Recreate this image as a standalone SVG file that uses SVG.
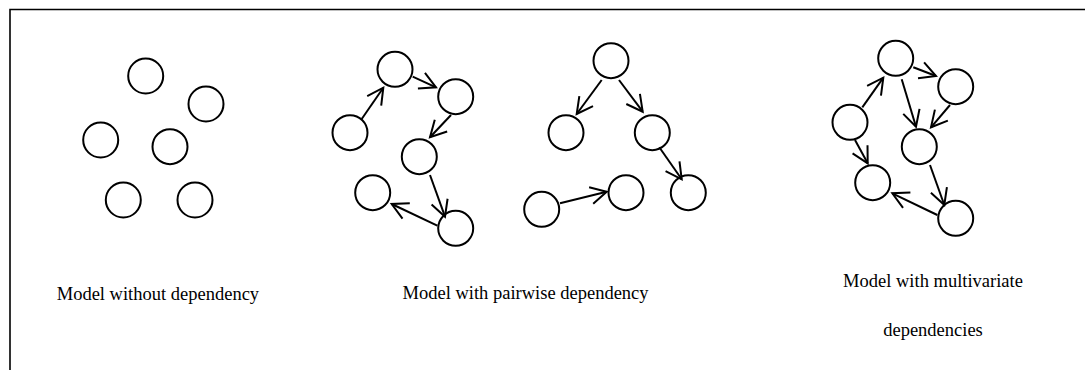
<svg xmlns="http://www.w3.org/2000/svg" width="1085" height="370" viewBox="0 0 1085 370">
<style>
.n{fill:#fff;stroke:#000;stroke-width:2}
.e{fill:none;stroke:#000;stroke-width:2;marker-end:url(#ah)}
.t{font-family:"Liberation Serif","Times New Roman",serif;font-size:18.5px;fill:#000}
</style>
<defs>
<marker id="ah" markerUnits="userSpaceOnUse" markerWidth="24" markerHeight="24" viewBox="-18 -12 24 24" refX="0" refY="0" orient="auto">
<path d="M-16,-8.5 L0,0 L-16,8.5" fill="none" stroke="#000" stroke-width="2"/>
</marker>
</defs>
<rect width="1085" height="370" fill="#fff"/>
<path d="M10,370 V9.5 H1085" fill="none" stroke="#000" stroke-width="1.6"/>
<g id="group-none">
<circle id="n1" class="n" cx="145.7" cy="76" r="17.5"/>
<circle id="n2" class="n" cx="206" cy="104" r="17.5"/>
<circle id="n3" class="n" cx="100.7" cy="140" r="17.5"/>
<circle id="n4" class="n" cx="170" cy="146.7" r="17.5"/>
<circle id="n5" class="n" cx="123.3" cy="200" r="17.5"/>
<circle id="n6" class="n" cx="195" cy="200" r="17.5"/>
</g>
<g id="group-pairwise">
<circle id="pA" class="n" cx="395" cy="69.3" r="17.5"/>
<circle id="pB" class="n" cx="455.7" cy="96.7" r="17.5"/>
<circle id="pC" class="n" cx="350" cy="132.7" r="17.5"/>
<circle id="pD" class="n" cx="419.3" cy="156.7" r="17.5"/>
<circle id="pE" class="n" cx="372.7" cy="192.7" r="17.5"/>
<circle id="pF" class="n" cx="455.7" cy="228.3" r="17.5"/>
<circle id="pG" class="n" cx="611" cy="60.7" r="17.5"/>
<circle id="pH" class="n" cx="566" cy="132.7" r="17.5"/>
<circle id="pI" class="n" cx="652.3" cy="132.7" r="17.5"/>
<circle id="pJ" class="n" cx="541.7" cy="209.3" r="17.5"/>
<circle id="pK" class="n" cx="626" cy="192.7" r="17.5"/>
<circle id="pL" class="n" cx="688.3" cy="192.7" r="17.5"/>
</g>
<g id="group-multivariate">
<circle id="mM" class="n" cx="895.7" cy="58.3" r="17.5"/>
<circle id="mN" class="n" cx="955.7" cy="86.7" r="17.5"/>
<circle id="mO" class="n" cx="850" cy="122.3" r="17.5"/>
<circle id="mP" class="n" cx="919.3" cy="146.7" r="17.5"/>
<circle id="mQ" class="n" cx="872.7" cy="182.7" r="17.5"/>
<circle id="mR" class="n" cx="955.7" cy="218.3" r="17.5"/>
</g>
<g id="connectors">
<line class="e" x1="361.7" y1="119" x2="383.3" y2="87.7"/>
<line class="e" x1="412.7" y1="76.7" x2="436" y2="87.3"/>
<line class="e" x1="451" y1="115" x2="430" y2="137.3"/>
<line class="e" x1="430" y1="175" x2="445" y2="216.7"/>
<line class="e" x1="437.3" y1="225.7" x2="391.7" y2="204"/>
<line class="e" x1="601.7" y1="80" x2="576.7" y2="114"/>
<line class="e" x1="619" y1="80" x2="642.7" y2="111.7"/>
<line class="e" x1="659.3" y1="147.3" x2="681.7" y2="179.3"/>
<line class="e" x1="560" y1="203.3" x2="606.7" y2="191.7"/>
<line class="e" x1="862.3" y1="107.3" x2="883.3" y2="77.7"/>
<line class="e" x1="913.3" y1="67.3" x2="936" y2="76"/>
<line class="e" x1="901.7" y1="79.3" x2="916" y2="126.7"/>
<line class="e" x1="950" y1="105" x2="931" y2="127.3"/>
<line class="e" x1="855" y1="140" x2="867.7" y2="163.3"/>
<line class="e" x1="930" y1="165" x2="944.3" y2="205"/>
<line class="e" x1="937.3" y1="215" x2="892.3" y2="193.3"/>
</g>
<g id="labels">
<text class="t" x="56.7" y="300">Model without dependency</text>
<text class="t" x="402.5" y="299">Model with pairwise dependency</text>
<text class="t" x="933" y="287" text-anchor="middle">Model with multivariate</text>
<text class="t" x="933" y="336" text-anchor="middle">dependencies</text>
</g>
</svg>
